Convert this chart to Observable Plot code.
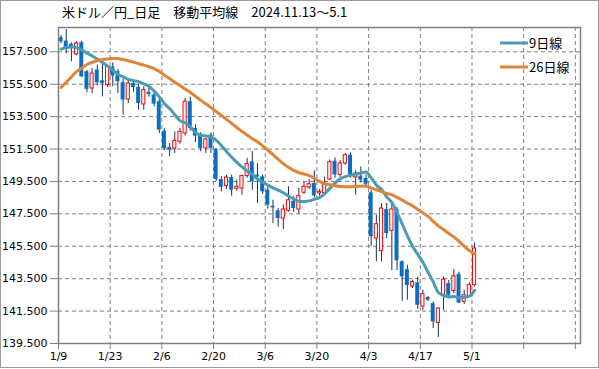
<!DOCTYPE html>
<html>
<head>
<meta charset="utf-8">
<script src="https://cdn.jsdelivr.net/npm/d3@7"></script>
<script src="https://cdn.jsdelivr.net/npm/@observablehq/plot@0.6"></script>
<style>
  html, body { margin: 0; padding: 0; background: #fff; }
  #wrap { position: relative; width: 599px; height: 369px; overflow: hidden; }
  #border { position: absolute; left: 0; top: 0; width: 597px; height: 366px; border: 1px solid #9a9a9a; pointer-events: none; }
  #title { position: absolute; left: 62px; top: 4px; font-family: "Noto Sans CJK JP", sans-serif; font-size: 13px; color: #000; white-space: pre; line-height: 16px; }
  #legend { position: absolute; left: 0; top: 0; pointer-events: none; }
</style>
</head>
<body>
<div id="wrap">
  <div id="title">米ドル／円_日足　移動平均線　2024.11.13～5.1</div>
</div>
<script>
// Daily candles 2025/1/9 .. 5/1 (one slot per weekday)
const open = [158.37,158.16,157.97,157.34,158.06,156.27,155.24,156.37,155.71,155.44,
  156.57,156.27,155.59,154.56,155.55,155.30,154.25,155.00,154.83,154.42,
  152.60,151.60,151.53,151.95,152.46,154.42,152.77,152.36,151.54,152.36,
  151.47,149.62,149.21,149.74,149.05,149.06,149.83,150.71,149.89,149.78,
  148.96,147.97,147.69,147.21,147.69,148.28,147.77,148.80,149.13,149.38,
  148.76,148.78,149.62,150.75,149.91,150.61,151.12,149.75,149.83,149.68,
  148.80,145.98,145.20,147.77,146.45,147.77,144.54,144.06,143.02,143.25,
  141.78,142.34,141.96,140.77,142.42,143.20,142.74,143.77,142.07,142.42,
  143.10];
const high = [158.50,158.88,158.05,158.12,158.15,156.35,156.47,156.68,156.78,156.68,
  156.82,156.40,155.80,155.79,155.75,155.50,155.34,155.44,155.10,154.56,
  152.75,151.84,152.56,152.77,154.62,154.70,153.00,152.50,152.15,152.50,
  151.53,149.80,149.89,149.89,149.58,149.89,150.92,151.33,150.60,149.90,
  149.20,148.34,147.83,148.04,149.17,148.55,149.07,149.48,149.62,150.16,
  149.00,149.75,150.82,150.95,150.80,151.23,151.27,150.16,150.40,149.90,
  148.96,147.42,148.14,148.14,148.14,147.90,144.60,144.33,143.41,143.60,
  142.80,142.40,142.07,141.70,143.60,143.40,144.06,143.90,142.80,143.24,
  145.71];
const low = [158.00,157.40,156.88,157.25,155.90,154.97,154.93,155.40,154.72,155.30,
  155.34,154.93,153.59,154.30,155.00,153.90,153.90,154.70,154.10,152.45,
  151.43,151.02,151.23,151.80,152.30,152.60,151.90,151.33,151.23,151.23,
  149.50,148.86,149.00,148.59,148.90,148.65,149.70,148.96,148.14,148.70,
  147.80,146.90,146.66,146.54,147.60,147.60,147.48,148.70,149.00,148.50,
  148.60,148.70,149.55,149.70,149.75,150.50,149.70,148.65,149.40,149.10,
  145.47,144.54,144.54,145.98,144.00,144.00,142.10,142.17,142.90,141.60,
  141.55,142.10,140.42,139.88,141.55,142.25,142.58,141.96,141.92,142.40,
  142.99];
const close = [158.12,157.77,157.71,158.02,155.96,155.18,156.16,155.59,155.55,156.57,
  156.00,155.65,154.52,155.55,155.30,154.31,155.14,154.87,154.27,152.67,
  151.53,151.43,152.01,152.56,154.42,152.77,152.30,151.54,152.09,151.54,
  149.62,149.13,149.74,148.96,149.17,149.83,150.57,149.48,149.78,148.86,
  148.04,147.87,147.21,147.77,148.34,147.83,148.59,149.17,149.33,148.61,
  148.86,149.30,150.69,149.90,150.61,151.12,149.89,149.99,149.58,149.33,
  146.08,146.86,147.83,146.29,147.77,144.60,143.61,143.08,143.29,141.86,
  142.54,142.17,140.83,141.66,143.44,142.48,143.65,142.00,142.48,143.10,
  145.36];
// Moving averages
const ma9 = [157.67,157.76,157.80,157.75,157.62,157.42,157.25,157.05,156.85,156.62,
  156.38,156.12,155.95,155.80,155.72,155.65,155.52,155.38,155.08,154.72,
  154.30,154.00,153.62,153.25,153.12,152.88,152.52,152.36,152.30,152.24,
  152.05,151.72,151.35,151.00,150.68,150.40,150.15,149.95,149.65,149.45,
  149.27,149.10,148.96,148.80,148.60,148.42,148.28,148.26,148.30,148.40,
  148.50,148.75,149.07,149.40,149.66,149.80,149.88,149.95,150.02,150.08,
  149.72,149.28,149.00,148.55,148.20,147.58,146.88,146.15,145.50,145.00,
  144.52,143.90,143.30,142.65,142.48,142.38,142.40,142.32,142.36,142.42,
  142.78];
const ma26 = [155.30,155.62,155.95,156.28,156.48,156.72,156.85,156.95,157.02,157.06,
  157.09,157.08,157.02,156.95,156.86,156.76,156.68,156.58,156.46,156.28,
  156.06,155.85,155.62,155.42,155.20,154.99,154.76,154.52,154.30,154.06,
  153.82,153.58,153.33,153.08,152.83,152.58,152.37,152.14,151.95,151.70,
  151.42,151.16,150.87,150.60,150.37,150.18,150.05,149.96,149.86,149.70,
  149.50,149.37,149.30,149.24,149.19,149.18,149.18,149.20,149.21,149.22,
  149.10,148.99,148.88,148.76,148.67,148.52,148.35,148.16,148.00,147.78,
  147.56,147.34,147.04,146.76,146.53,146.29,146.08,145.80,145.50,145.23,
  145.05];
const xTickLabels = ["1/9","1/23","2/6","2/20","3/6","3/20","4/3","4/17","5/1","",""];
const yTicks = [139.5,141.5,143.5,145.5,147.5,149.5,151.5,153.5,155.5,157.5];
const seriesNames = ["9日線","26日線"];
const seriesColors = ["#4a9bb4","#df8439"];

const rows = close.map((c, i) => ({i, open: open[i], high: high[i], low: low[i], close: c, ma9: ma9[i], ma26: ma26[i]}));
const xTickPos = xTickLabels.map((_, k) => k * 10 - 0.5);
const ups = rows.filter(d => d.close >= d.open);
const downs = rows.filter(d => d.close < d.open);

const chart = Plot.plot({
  width: 599,
  height: 369,
  marginLeft: 58,
  marginRight: 19,
  marginTop: 27,
  marginBottom: 26,
  style: {fontFamily: "DejaVu Sans, sans-serif", fontSize: "11px", color: "#000", background: "transparent"},
  x: {domain: [-0.5, 100.5], label: null},
  y: {domain: [139.5, 159], label: null},
  marks: [
    Plot.gridY(yTicks, {stroke: "#808080", strokeOpacity: 1, strokeDasharray: "4,3"}),
    Plot.gridX(xTickPos, {stroke: "#808080", strokeOpacity: 1, strokeDasharray: "4,3"}),
    Plot.axisY(yTicks, {tickSize: 8, tickPadding: 3, tickFormat: d3.format(".3f"), stroke: "#808080", fill: "#000", fontSize: 11, label: null}),
    Plot.axisX(xTickPos, {tickSize: 6, tickPadding: 3, tickFormat: (d, k) => xTickLabels[k], stroke: "#808080", fill: "#000", fontSize: 11, label: null}),
    Plot.ruleX(rows, {x: "i", y1: "low", y2: "high", stroke: "#1c2f5e", strokeWidth: 1}),
    Plot.rect(downs, {x1: d => d.i - 0.5, x2: d => d.i + 0.5, y1: "open", y2: "close", fill: "#0a6fc2", insetLeft: 0.6, insetRight: 0.6}),
    Plot.rect(ups, {x1: d => d.i - 0.5, x2: d => d.i + 0.5, y1: "open", y2: "close", fill: "#fff", stroke: "#ff0000", strokeWidth: 1, insetLeft: 1, insetRight: 1}),
    Plot.line(rows, {x: "i", y: "ma9", stroke: seriesColors[0], strokeWidth: 3, curve: "monotone-x"}),
    Plot.line(rows, {x: "i", y: "ma26", stroke: seriesColors[1], strokeWidth: 3, curve: "monotone-x"}),
    Plot.frame({stroke: "#808080", strokeWidth: 1.5})
  ]
});
const wrap = document.getElementById("wrap");
wrap.appendChild(chart);

// legend overlay (inside the plot, top right)
const ns = "http://www.w3.org/2000/svg";
const lg = document.createElementNS(ns, "svg");
lg.setAttribute("id", "legend");
lg.setAttribute("width", 599);
lg.setAttribute("height", 369);
seriesNames.forEach((name, k) => {
  const y = 43 + k * 24;
  const ln = document.createElementNS(ns, "line");
  ln.setAttribute("x1", 500); ln.setAttribute("x2", 528);
  ln.setAttribute("y1", y); ln.setAttribute("y2", y);
  ln.setAttribute("stroke", seriesColors[k]); ln.setAttribute("stroke-width", 3);
  lg.appendChild(ln);
  const t = document.createElementNS(ns, "text");
  t.setAttribute("x", 529); t.setAttribute("y", y);
  t.setAttribute("dy", "0.35em");
  t.setAttribute("font-family", "Noto Sans CJK JP, sans-serif");
  t.setAttribute("font-size", 13);
  t.textContent = name;
  lg.appendChild(t);
});
wrap.appendChild(lg);
const b = document.createElement("div");
b.id = "border";
wrap.appendChild(b);
</script>
</body>
</html>
